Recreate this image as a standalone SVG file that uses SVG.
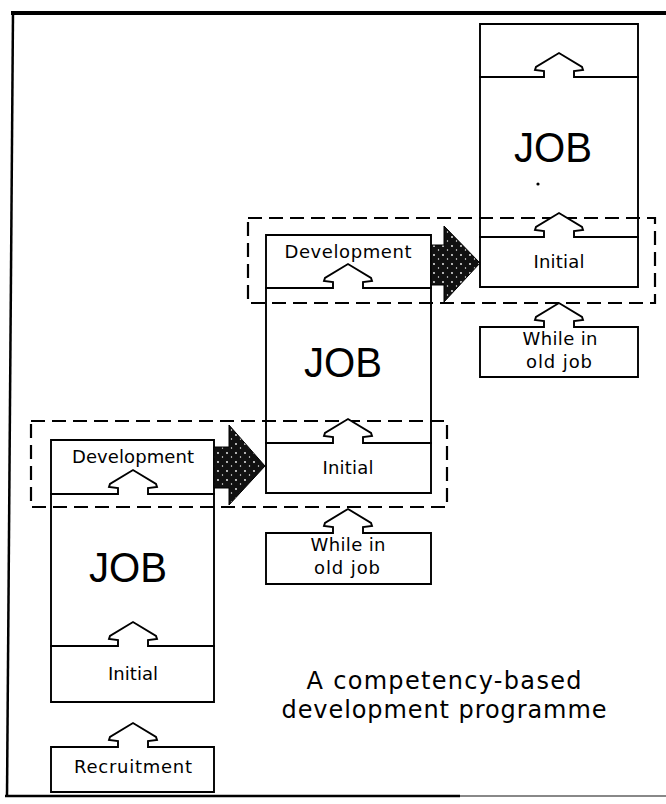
<svg xmlns="http://www.w3.org/2000/svg" width="666" height="804" viewBox="0 0 666 804">
<style>
.ln{fill:none;stroke:#000;stroke-width:1.9;stroke-linecap:square}
.dash{fill:none;stroke:#000;stroke-width:2.2;stroke-dasharray:14 7}
.arr{fill:#fff;stroke:#000;stroke-width:1.9;stroke-linejoin:miter}
.lbl{font-family:"DejaVu Sans","Liberation Sans",sans-serif;font-size:18px;fill:#000;text-anchor:middle}
.job{font-family:"Liberation Sans",Arial,sans-serif;font-size:42px;fill:#000;text-anchor:middle}
.cap{font-family:"DejaVu Sans","Liberation Sans",sans-serif;font-size:24px;fill:#000;text-anchor:middle}
</style>
<defs>
<pattern id="stip" width="9" height="9" patternUnits="userSpaceOnUse">
<rect width="9" height="9" fill="#111"/>
<circle cx="2" cy="3" r="0.9" fill="#fff"/>
<circle cx="6.5" cy="7" r="0.7" fill="#fff"/>
</pattern>
<path id="up" d="M-15,0 V-6 L-24,-7 L-23,-10 L0,-24 L23,-10 L24,-7 L15,-6 V0"/>
</defs>
<rect width="666" height="804" fill="#fff"/>

<g id="frame">
<path d="M11,13 H666" fill="none" stroke="#000" stroke-width="4"/>
<path d="M13,12 L7,796" fill="none" stroke="#000" stroke-width="2.5"/>
<path d="M5,796 H460" fill="none" stroke="#000" stroke-width="2.5"/>
<path d="M460,796 H666" fill="none" stroke="#888" stroke-width="2"/>
</g>

<!-- Column 1 -->
<g id="col1-development">
<path class="ln" d="M51,440 H214 M51,494 H118 M148,494 H214 M51,440 V494 M214,440 V494"/>
<text class="lbl" x="133" y="463" textLength="122" lengthAdjust="spacing">Development</text>
</g>
<g id="col1-job">
<path class="ln" d="M51,494 V646 M214,494 V646"/>
<text class="job" x="128" y="582" textLength="78" lengthAdjust="spacingAndGlyphs">JOB</text>
</g>
<g id="col1-initial">
<path class="ln" d="M51,646 H118 M148,646 H214 M51,646 V702 H214 V646"/>
<text class="lbl" x="133" y="680" textLength="50" lengthAdjust="spacing">Initial</text>
</g>
<g id="recruitment">
<path class="ln" d="M51,747 H118 M148,747 H214 M51,747 V792 H214 V747"/>
<text class="lbl" x="133" y="773" textLength="118" lengthAdjust="spacing">Recruitment</text>
</g>

<!-- Column 2 -->
<g id="col2-development">
<path class="ln" d="M266,235 H431 M266,288 H333 M363,288 H431 M266,235 V288 M431,235 V288"/>
<text class="lbl" x="348" y="258" textLength="127" lengthAdjust="spacing">Development</text>
</g>
<g id="col2-job">
<path class="ln" d="M266,288 V443 M431,288 V443"/>
<text class="job" x="343" y="377" textLength="78" lengthAdjust="spacingAndGlyphs">JOB</text>
</g>
<g id="col2-initial">
<path class="ln" d="M266,443 H333 M363,443 H431 M266,443 V493 H431 V443"/>
<text class="lbl" x="348" y="474" textLength="51" lengthAdjust="spacing">Initial</text>
</g>
<g id="col2-while">
<path class="ln" d="M266,533 H333 M363,533 H431 M266,533 V584 H431 V533"/>
<text class="lbl" x="348" y="551" textLength="75" lengthAdjust="spacing">While in</text>
<text class="lbl" x="347" y="574" textLength="66" lengthAdjust="spacing">old job</text>
</g>

<!-- Column 3 -->
<g id="col3-top">
<path class="ln" d="M480,24 H638 M480,77 H544 M574,77 H638 M480,24 V77 M638,24 V77"/>
</g>
<g id="col3-job">
<path class="ln" d="M480,77 V237 M638,77 V237"/>
<text class="job" x="553" y="162" textLength="78" lengthAdjust="spacingAndGlyphs">JOB</text>
<circle cx="538" cy="184" r="1.6" fill="#000"/>
</g>
<g id="col3-initial">
<path class="ln" d="M480,237 H544 M574,237 H638 M480,237 V287 H638 V237"/>
<text class="lbl" x="559" y="268" textLength="51" lengthAdjust="spacing">Initial</text>
</g>
<g id="col3-while">
<path class="ln" d="M480,327 H544 M574,327 H638 M480,327 V377 H638 V327"/>
<text class="lbl" x="560" y="345" textLength="75" lengthAdjust="spacing">While in</text>
<text class="lbl" x="559" y="368" textLength="66" lengthAdjust="spacing">old job</text>
</g>

<!-- Dashed groupings -->
<g id="group-b"><rect class="dash" x="31" y="421" width="416" height="86"/></g>
<g id="group-a"><rect class="dash" x="248" y="218" width="407" height="85"/></g>

<g id="connectors">
<use href="#up" class="arr" transform="translate(133,494)"/>
<use href="#up" class="arr" transform="translate(133,646)"/>
<use href="#up" class="arr" transform="translate(133,747)"/>
<use href="#up" class="arr" transform="translate(348,288)"/>
<use href="#up" class="arr" transform="translate(348,443)"/>
<use href="#up" class="arr" transform="translate(348,533)"/>
<use href="#up" class="arr" transform="translate(559,77)"/>
<use href="#up" class="arr" transform="translate(559,237)"/>
<use href="#up" class="arr" transform="translate(559,327)"/>
<path d="M214,447 H229 V425 L265,466 L229,505 V488 H214 Z" fill="url(#stip)" stroke="#000" stroke-width="1"/>
<path d="M431,245 H444 V226 L480,263 L444,302 V285 H431 Z" fill="url(#stip)" stroke="#000" stroke-width="1"/>
</g>

<g id="caption">
<text class="cap" x="444" y="689" textLength="275" lengthAdjust="spacing">A competency-based</text>
<text class="cap" x="444" y="718" textLength="325" lengthAdjust="spacing">development programme</text>
</g>
</svg>
